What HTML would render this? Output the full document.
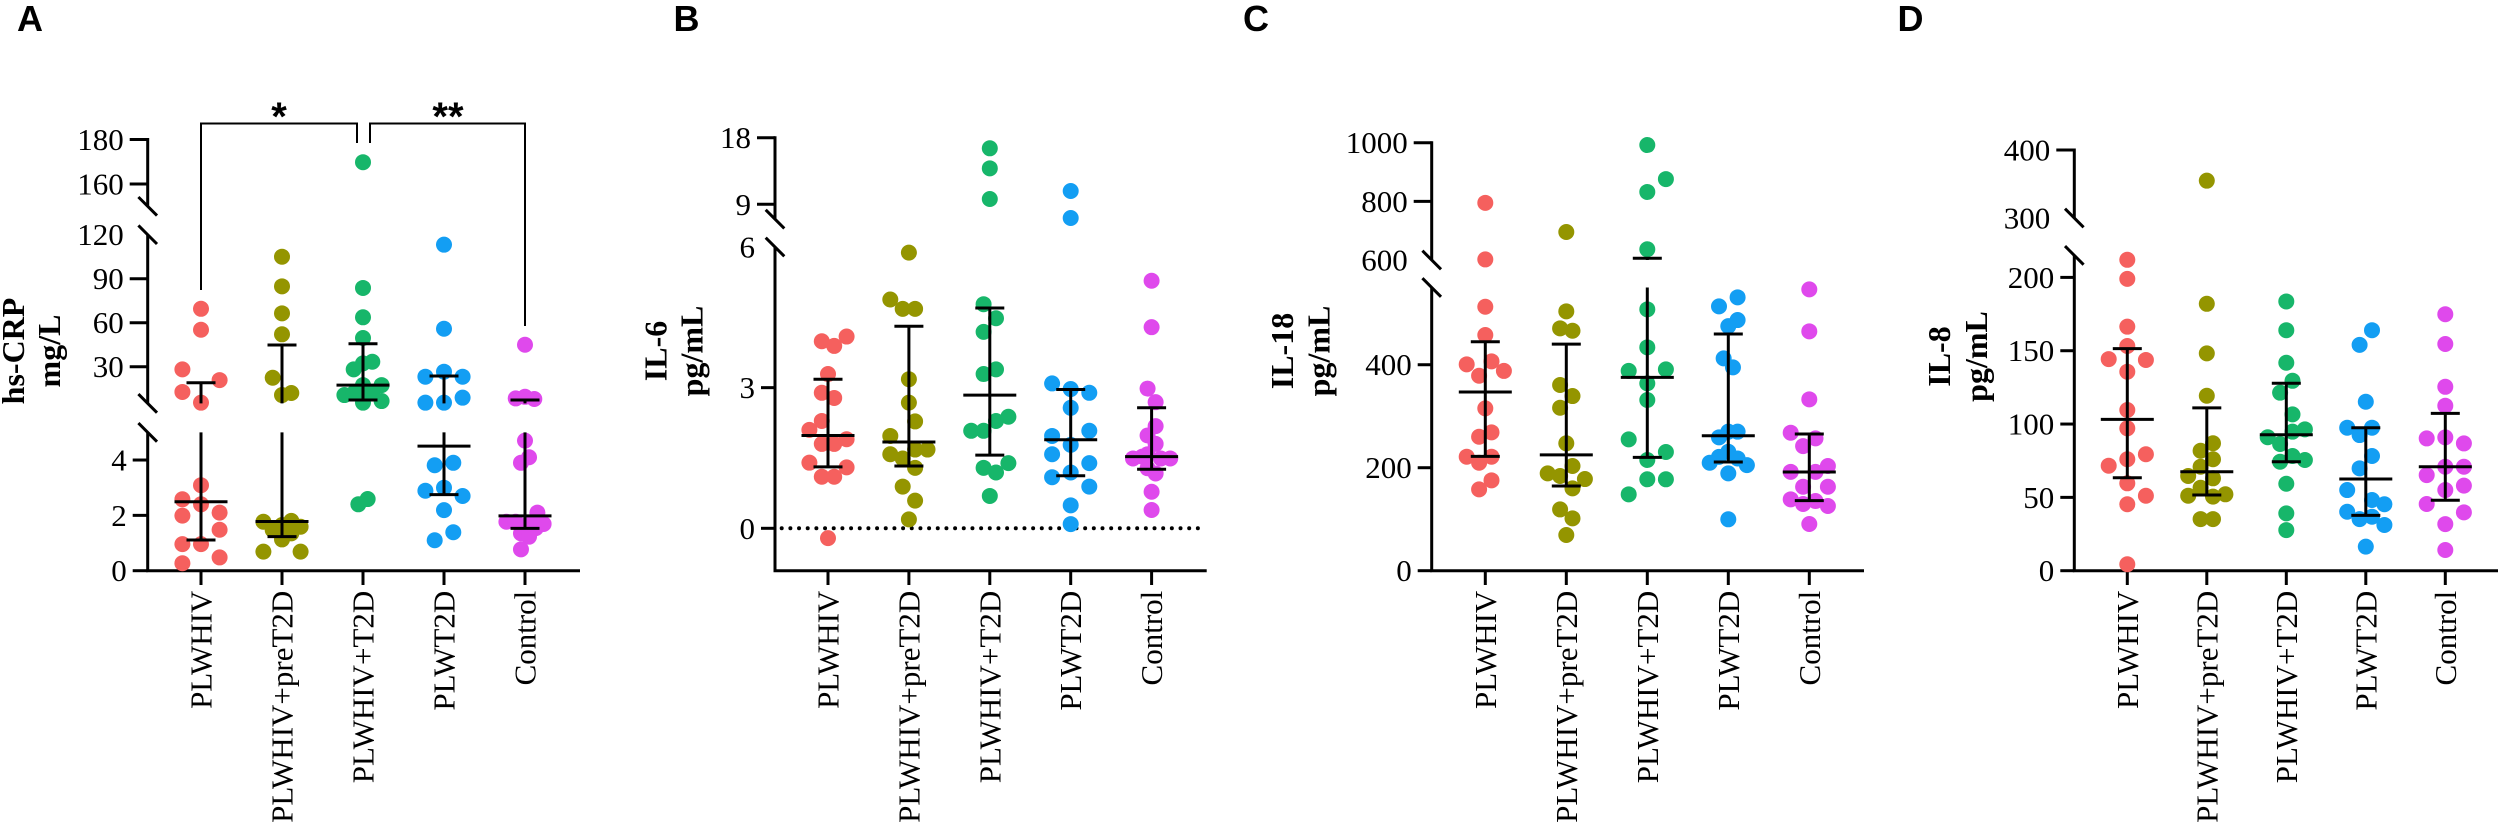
<!DOCTYPE html>
<html lang="en">
<head>
<meta charset="utf-8">
<title>Inflammatory markers by group</title>
<style>
html,body{margin:0;padding:0;background:#fff;width:2500px;height:829px;overflow:hidden}
svg{display:block}
text{font-family:"Liberation Serif",serif;fill:#000}
.num{font-size:31px}
.cat{font-size:31px}
.ttl{font-size:32px;font-weight:bold}
.let{font-family:"Liberation Sans",sans-serif;font-size:36px;font-weight:bold}
.star{font-family:"Liberation Sans",sans-serif;font-size:40px;font-weight:bold}
</style>
</head>
<body>
<svg id="figure" xmlns="http://www.w3.org/2000/svg" width="2500" height="829" viewBox="0 0 2500 829"></svg>
<script>
/* ---------- shared categories ---------- */
const categories = ["PLWHIV", "PLWHIV+preT2D", "PLWHIV+T2D", "PLWT2D", "Control"];

/* ---------- Panel A: hs-CRP (mg/L) ---------- */
const crpPlwhiv = [69.5,55.2,28.2,20.9,12.8,5.5,3.09,2.58,2.4,1.99,2.1,1.48,0.96,0.96,0.48,0.27];
const crpPlwhivSwarm = [0,0,-6,6,-6,0,0,-6,0,-6,6,6,-6,0,6,-6];
const crpPre = [105,84.8,66.4,52.1,22.5,12.1,10.7,1.77,1.8,1.65,1.59,1.47,1.35,1.13,0.69,0.69];
const crpPreSwarm = [0,0,0,0,-3,3,0,-6,3,0,6,-3,3,0,-6,6];
const crpT2d = [169.8,83.7,63.7,49.6,28.2,32.3,33.4,17.5,17.5,10.7,11.9,11.9,6.6,5.5,2.59,2.4];
const crpT2dSwarm = [0,0,0,0,-3,0,3,0,6,-6,-3,3,6,0,1.5,-1.5];
const crpPlwt2d = [113.2,55.9,23.2,26.6,23.2,8.9,5.5,5.5,3.81,3.9,3.0,2.89,2.7,2.19,1.39,1.10];
const crpPlwt2dSwarm = [0,0,-6,0,6,6,-6,0,-3,3,0,-6,6,0,3,-3];
const crpControl = [45,8.4,9.5,8.0,4.7,4.1,3.9,2.1,1.77,1.77,1.69,1.54,1.35,1.23,0.77,1.71];
const crpControlSwarm = [0,-3,0,3,0,1.3,-1.3,4,-6,-3,6,3.5,-1.3,1.3,-1.3,1.3];
const crpMedian = [2.49,1.78,17.5,4.5,1.98];
const crpQ1 = [1.11,1.23,7.3,2.75,1.53];
const crpQ3 = [19.1,44.8,45.7,23.7,7.3];
const crpTicks = [0,2,4,30,60,90,160,180];
const crpLabelOnly = [120];

/* ---------- Panel B: IL-6 (pg/mL) ---------- */
const il6Plwhiv = [3.99,3.89,4.09,3.29,2.89,2.78,2.29,2.10,1.90,1.80,1.80,1.40,1.30,1.10,1.10,-0.21];
const il6PlwhivSwarm = [-2,2,6,0,-2,2,-2,-6,6,-2,2,-6,6,-2,2,0];
const il6Pre = [5.88,4.88,4.68,4.68,3.18,2.68,2.28,1.97,1.68,1.68,1.58,1.49,1.29,0.89,0.59,0.19];
const il6PreSwarm = [0,-6,-2,2,0,0,2,-6,6,2,-6,-2,2,-2,2,0];
const il6T2d = [16.57,13.86,9.72,4.78,4.48,4.19,3.39,3.29,2.38,2.29,2.08,2.08,1.39,1.29,1.19,0.69];
const il6T2dSwarm = [0,0,0,-2,2,-2,2,-2,6,2,-6,-2,6,-2,2,0];
const il6Plwt2d = [10.8,7.15,3.09,2.97,2.89,2.57,1.97,2.08,1.78,1.58,1.39,1.19,1.09,0.89,0.49,0.09];
const il6Plwt2dSwarm = [0,0,-6,0,6,0,-6,6,0,-6,6,0,-6,6,0,0];
const il6Control = [5.28,4.29,2.98,2.69,2.18,1.98,1.80,1.49,1.53,1.58,1.49,1.49,1.28,1.17,0.78,0.39];
const il6ControlSwarm = [0,0,-1.3,1.3,1.3,-1.3,1.3,-6,-3,-1.3,3,6,-1.3,1.3,0,0];
const il6Median = [1.98,1.84,2.84,1.89,1.53];
const il6Q1 = [1.31,1.33,1.56,1.12,1.26];
const il6Q3 = [3.18,4.31,4.70,2.96,2.57];
const il6Ticks = [0,3,9,18];
const il6LabelOnly = [6];

/* ---------- Panel C: IL-18 (pg/mL) ---------- */
const il18Plwhiv = [795,602,512.6,457.7,400.8,406.6,388,378.7,315.3,268.7,260.2,221.4,221.4,209.7,175.5,158];
const il18PlwhivSwarm = [0,0,0,0,-6,2,6,-2,0,2,-2,-6,2,-2,2,-2];
const il18Pre = [695.5,503.7,470.7,466,360.6,339.2,316.5,247.4,203.3,189,183.9,178,160,119,101.7,69.3];
const il18PreSwarm = [0,0,-2,2,-2,2,-2,0,2,-6,-2,6,2,-2,2,0];
const il18T2d = [992,876,832,636.5,507.6,433.8,388,391,363.9,331.5,255,230.5,215,177.5,177.5,148.3];
const il18T2dSwarm = [0,6,0,0,0,0,-6,6,0,0,-6,6,0,0,6,-6];
const il18Plwt2d = [530.9,513.4,486.8,475,412.4,394.9,259,270,270,231,221,218,209.7,205,189,99.8];
const il18Plwt2dSwarm = [3,-3,3,0,-1.5,1.5,-3,0,3,0,-3,3,-6,6,0,0];
const il18Control = [546.4,464.9,332.8,268,257,242,203.3,192,192,163,163,138.6,135.3,129.5,125.6,90.7];
const il18ControlSwarm = [0,0,0,-6,2,-2,6,-6,2,6,-2,-6,2,-2,6,0];
const il18Median = [347,225,375.5,262,191.7];
const il18Q1 = [222,164.5,220,211,136];
const il18Q3 = [444.7,440,606,459.6,265.4];
const il18Ticks = [0,200,400,800,1000];
const il18LabelOnly = [600];

/* ---------- Panel D: IL-8 (pg/mL) ---------- */
const il8Plwhiv = [212,199,166.4,153.2,144.3,143.7,135.7,109.6,97.1,79.4,76,71.6,59.6,51.1,45.3,4.4];
const il8PlwhivSwarm = [0,0,0,0,-6,6,0,0,0,6,0,-6,0,6,0,0];
const il8Pre = [354.9,182,148.2,119.3,86.9,81.8,76,70.9,64.6,63,56.6,51.1,52.1,50.5,35.2,35.2];
const il8PreSwarm = [0,0,0,0,2,-2,2,-2,-6,2,-2,-6,6,2,-2,2];
const il8T2d = [183.6,164,141.8,129.5,121.4,106.6,96.4,94.8,91,86.4,74.3,78.2,75.5,59.3,39.1,27.7];
const il8T2dSwarm = [0,0,0,2,-2,2,6,2,-6,-2,-2,2,6,0,0,0];
const il8Plwt2d = [164,154,115.2,97.5,97.5,92.5,78.2,69.8,55,48.2,45.3,40.2,36.8,35.2,31.2,16.4];
const il8Plwt2dSwarm = [2,-2,0,-6,2,-2,2,-2,-6,2,6,-6,2,-2,6,0];
const il8Control = [174.9,154.6,125.4,112.5,90.2,90.9,86.8,65.2,70.9,70.9,58,55,45.5,39.8,31.8,14.1];
const il8ControlSwarm = [0,0,0,0,-6,0,6,-6,0,6,6,0,-6,6,0,0];
const il8Median = [103.2,67.5,92.7,62.5,70.9];
const il8Q1 = [63.4,51.6,74.3,37.7,48];
const il8Q3 = [151.4,111,127.8,97.5,107.3];
const il8Ticks = [0,50,100,150,200,400];
const il8LabelOnly = [300];

/* ---------- styling / layout (not data) ---------- */
const groupColors = ["#F5605E", "#949500", "#17B66A", "#139EF3", "#DF49EC"];
const DOT_R = 8, SWARM_UNIT = 3.1, MED_W = 53, CAP_W = 29, AXIS_Y = 570.7;

const panels = [
  { key:"hs-crp", letter:"A", letterX:17, axisX:147.7, firstX:201, step:81, xEnd:580,
    title:["hs-CRP","mg/L"], titleX:[24,60], titleY:351,
    segments:[
      {domain:[0,5],    range:[570.7,432.35], tick:15},
      {domain:[5,120],  range:[403.4,234.7],  tick:18},
      {domain:[150,180],range:[206.3,139.5],  tick:18}],
    ticks:crpTicks, labelOnly:crpLabelOnly, median:crpMedian, q1:crpQ1, q3:crpQ3,
    groups:[crpPlwhiv,crpPre,crpT2d,crpPlwt2d,crpControl],
    swarm:[crpPlwhivSwarm,crpPreSwarm,crpT2dSwarm,crpPlwt2dSwarm,crpControlSwarm] },
  { key:"il-6", letter:"B", letterX:673.5, axisX:775, firstX:828, step:80.9, xEnd:1206.7,
    title:["IL-6","pg/mL"], titleX:[666.7,702.5], titleY:351, zeroLine:true,
    segments:[
      {domain:[-0.9,6],range:[570.5,247],   tick:14},
      {domain:[7,18],  range:[219.1,137.7], tick:18}],
    ticks:il6Ticks, labelOnly:il6LabelOnly, median:il6Median, q1:il6Q1, q3:il6Q3,
    groups:[il6Plwhiv,il6Pre,il6T2d,il6Plwt2d,il6Control],
    swarm:[il6PlwhivSwarm,il6PreSwarm,il6T2dSwarm,il6Plwt2dSwarm,il6ControlSwarm] },
  { key:"il-18", letter:"C", letterX:1243, axisX:1431.7, firstX:1485.3, step:81, xEnd:1864,
    title:["IL-18","pg/mL"], titleX:[1293,1329.5], titleY:351,
    segments:[
      {domain:[0,550],    range:[570.7,287.5], tick:14},
      {domain:[600,1000], range:[260,142.7],   tick:18}],
    ticks:il18Ticks, labelOnly:il18LabelOnly, median:il18Median, q1:il18Q1, q3:il18Q3,
    groups:[il18Plwhiv,il18Pre,il18T2d,il18Plwt2d,il18Control],
    swarm:[il18PlwhivSwarm,il18PreSwarm,il18T2dSwarm,il18Plwt2dSwarm,il18ControlSwarm] },
  { key:"il-8", letter:"D", letterX:1897.5, axisX:2074.3, firstX:2127.3, step:79.5, xEnd:2498,
    title:["IL-8","pg/mL"], titleX:[1950,1987], titleY:356.5,
    segments:[
      {domain:[0,215],   range:[570.7,255.4], tick:14},
      {domain:[300,400], range:[218,150],     tick:18}],
    ticks:il8Ticks, labelOnly:il8LabelOnly, median:il8Median, q1:il8Q1, q3:il8Q3,
    groups:[il8Plwhiv,il8Pre,il8T2d,il8Plwt2d,il8Control],
    swarm:[il8PlwhivSwarm,il8PreSwarm,il8T2dSwarm,il8Plwt2dSwarm,il8ControlSwarm] }
];

/* ---------- helpers ---------- */
const SVG_NS = "http://www.w3.org/2000/svg";
const root = document.getElementById("figure");

function make(tag, attrs, parent) {
  const n = document.createElementNS(SVG_NS, tag);
  for (const k in attrs) n.setAttribute(k, attrs[k]);
  parent.appendChild(n);
  return n;
}
function makeLine(x1, y1, x2, y2, w, parent) {
  return make("line", {x1:x1, y1:y1, x2:x2, y2:y2, stroke:"#000", "stroke-width":w}, parent);
}
function segmentFor(p, v) {
  for (const s of p.segments) if (v <= s.domain[1]) return s;
  return p.segments[p.segments.length - 1];
}
function scaleIn(s, v) {
  return s.range[0] + (v - s.domain[0]) * (s.range[1] - s.range[0]) / (s.domain[1] - s.domain[0]);
}
function yPos(p, v) { return scaleIn(segmentFor(p, v), v); }
function xPos(p, i) { return p.firstX + i * p.step; }

/* ---------- draw ---------- */
for (const p of panels) {
  const g = make("g", {}, root);
  
  

  const letter = make("text", {class:"let", x:p.letterX, y:31}, g);
  letter.textContent = p.letter;
  
  

  p.title.forEach(function (t, i) {
    const tx = p.titleX[i];
    const title = make("text", {class:"ttl", x:tx, y:p.titleY, "text-anchor":"middle",
      transform:"rotate(-90 " + tx + " " + p.titleY + ")"}, g);
    title.textContent = t;
    
    
  });

  /* y axis segments + break marks */
  p.segments.forEach(function (s, i) {
    const top = i === p.segments.length - 1 ? s.range[1] - 1.5 : s.range[1];
    const axis = makeLine(p.axisX, s.range[0], p.axisX, top, 3, g);
    
    
    if (i < p.segments.length - 1) {
      const marks = [s.range[1], p.segments[i + 1].range[0]];
      for (const my of marks) {
        const slash = makeLine(p.axisX - 9.3, my - 9.3, p.axisX + 9.3, my + 9.3, 3, g);
        
        
      }
    }
  });

  /* y ticks */
  for (const v of p.ticks) {
    const s = segmentFor(p, v);
    const ty = scaleIn(s, v);
    const tk = makeLine(p.axisX - s.tick, ty, p.axisX, ty, 3, g);
    
    
    const lb = make("text", {class:"num", x:p.axisX - s.tick - 6, y:ty + 10.5, "text-anchor":"end"}, g);
    lb.textContent = String(v);
    
    
  }
  for (const v of p.labelOnly) {
    const s = segmentFor(p, v);
    const lb = make("text", {class:"num", x:p.axisX - s.tick - 6, y:scaleIn(s, v) + 10.5, "text-anchor":"end"}, g);
    lb.textContent = String(v);
    
    
  }

  /* x axis */
  const xAxis = makeLine(p.axisX - 1.5, AXIS_Y, p.xEnd, AXIS_Y, 3, g);
  
  

  /* zero reference line */
  if (p.zeroLine) {
    const zy = yPos(p, 0);
    const zl = make("line", {x1:p.axisX + 6.7, y1:zy, x2:p.xEnd - 7, y2:zy, stroke:"#000",
      "stroke-width":4, "stroke-linecap":"round", "stroke-dasharray":"0 8.67"}, g);
    
    
  }

  categories.forEach(function (cat, i) {
    const cx = xPos(p, i);
    const tk = makeLine(cx, AXIS_Y, cx, 585, 3, g);
    
    
    const lx = cx + 10.5;
    const lb = make("text", {class:"cat", x:lx, y:590.7, "text-anchor":"end",
      transform:"rotate(-90 " + lx + " 590.7)"}, g);
    lb.textContent = cat;
    
    

    /* points */
    p.groups[i].forEach(function (v, j) {
      const dot = make("circle", {cx:cx + p.swarm[i][j] * SWARM_UNIT, cy:yPos(p, v), r:DOT_R, fill:groupColors[i]}, g);
      
      
    });
  });

  /* median + IQR on top of the points */
  categories.forEach(function (cat, i) {
    const cx = xPos(p, i);
    for (const s of p.segments) {
      const lo = Math.max(p.q1[i], s.domain[0]);
      const hi = Math.min(p.q3[i], s.domain[1]);
      if (lo < hi) {
        const bar = makeLine(cx, scaleIn(s, lo), cx, scaleIn(s, hi), 3, g);
        
        
      }
    }
    const q1y = yPos(p, p.q1[i]);
    const capLow = makeLine(cx - CAP_W / 2, q1y, cx + CAP_W / 2, q1y, 3, g);
    
    
    const q3y = yPos(p, p.q3[i]);
    const capHigh = makeLine(cx - CAP_W / 2, q3y, cx + CAP_W / 2, q3y, 3, g);
    
    
    const my = yPos(p, p.median[i]);
    const med = makeLine(cx - MED_W / 2, my, cx + MED_W / 2, my, 3, g);
    
    
  });
}

/* significance brackets on panel A */
const sigPanel = panels[0];
const sigGroup = make("g", {}, root);



const leftPath = "M" + xPos(sigPanel, 0) + " 290 V123.5 H357 V143";
const bracketLeft = make("path", {d:leftPath, fill:"none", stroke:"#000", "stroke-width":2}, sigGroup);



const rightPath = "M370 143 V123.5 H" + xPos(sigPanel, 4) + " V326";
const bracketRight = make("path", {d:rightPath, fill:"none", stroke:"#000", "stroke-width":2}, sigGroup);



const starOne = make("text", {class:"star", x:279, y:130, "text-anchor":"middle"}, sigGroup);
starOne.textContent = "*";



const starTwo = make("text", {class:"star", x:448, y:130, "text-anchor":"middle"}, sigGroup);
starTwo.textContent = "**";


</script>
</body>
</html>
